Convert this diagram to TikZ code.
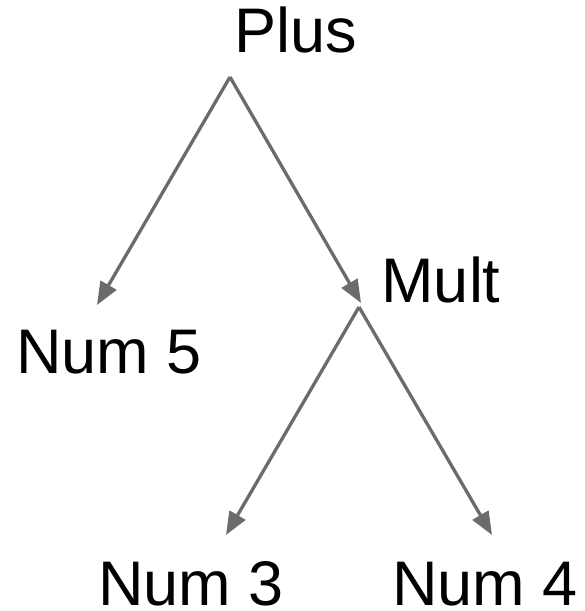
\documentclass[tikz,border=0pt]{standalone}
\usepackage{fontspec}
\setmainfont{Liberation Sans}
\usepackage{tikz}
\usetikzlibrary{arrows.meta}
\usetikzlibrary{positioning}

\begin{document}
\begin{tikzpicture}
[
	x = 1pt, y = -1pt,
	term/.style	= {anchor = base, inner sep = 0pt, text depth = 0pt, font = \fontsize{63}{63}\selectfont},
	edge/.style	= {-{Triangle[length = 23pt, width = 18pt]}, line width = 3.3pt, draw = black!58},
]
	\useasboundingbox (0,0) rectangle (585,611);

	\node (plus) [term] at (296,52) {Plus};
	\node (mult) [term] at (441,302) {Mult};
	\node (num5) [term] at (109,373) {Num 5};
	\node (num3) [term] at (191,605) {Num 3};
	\node (num4) [term] at (485,605) {Num 4};
	%
	\coordinate (plusfoot) at (230,77);
	\coordinate (multfoot) at (359,307);
	\coordinate (multhead) at (361,303);
	\coordinate (num5head) at (97,305);
	\coordinate (num3head) at (226,535);
	\coordinate (num4head) at (492,535);

	\draw [edge] (plusfoot) -- (num5head);
	\draw [edge] (plusfoot) -- (multhead);
	%
	\draw [edge] (multfoot) -- (num3head);
	\draw [edge] (multfoot) -- (num4head);

\end{tikzpicture}
\end{document}
